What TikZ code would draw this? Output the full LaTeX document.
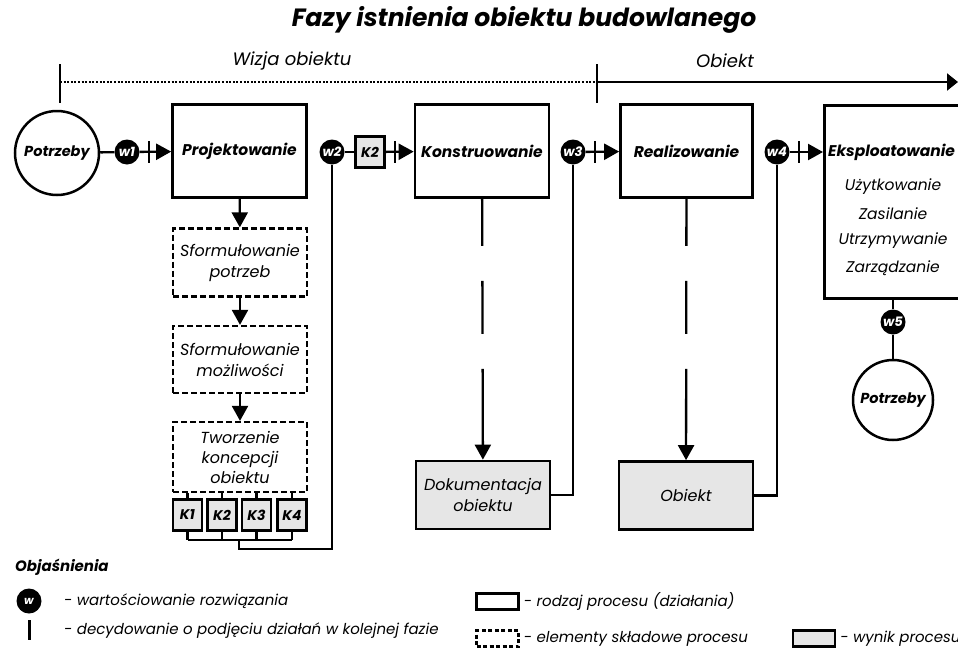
\documentclass[tikz,border=0pt]{standalone}
\usepackage{fontspec}
\setmainfont{Poppins}
\usetikzlibrary{arrows.meta,calc,positioning}
\definecolor{szary}{HTML}{E6E6E6}

\tikzset{
  conn/.style={line width=2.3pt},
  arr/.style={conn, -{Triangle[length=15pt,width=16pt]}},
  tick/.style={line width=2.3pt},
  proc/.style={draw, line width=2.7pt, minimum width=134pt, minimum height=93pt,
    align=center, font=\bfseries\itshape\fontsize{15.5}{18}\selectfont},
  elem/.style={draw, line width=2.3pt, dash pattern=on 6pt off 3pt,
    minimum width=134pt, minimum height=68pt, align=center,
    font=\itshape\fontsize{16}{21}\selectfont},
  wynik/.style={draw, fill=szary, line width=2.7pt, minimum width=134pt,
    minimum height=68pt, align=center, font=\itshape\fontsize{16}{21}\selectfont},
  kbox/.style={draw, fill=szary, line width=2.5pt, minimum width=29pt,
    minimum height=31pt, inner sep=0pt, font=\bfseries\itshape\fontsize{14}{16}\selectfont},
  ocena/.style={circle, fill=black, minimum size=25pt, inner sep=0pt,
    text=white, font=\bfseries\itshape\fontsize{13}{15}\selectfont},
  potrz/.style={circle, draw, line width=2.5pt, minimum size=84pt, inner sep=0pt,
    font=\bfseries\itshape\fontsize{14.5}{17}\selectfont},
  lista/.style={font=\itshape\fontsize{15.5}{18}\selectfont},
  opis/.style={font=\itshape\fontsize{15}{18}\selectfont, anchor=west, inner sep=0pt},
}

\begin{document}
\begin{tikzpicture}[x=1pt, y=-1pt]
  \useasboundingbox (0,0) rectangle (958,648);

  % tytul i os czasu
  \node[font=\bfseries\itshape\fontsize{25}{30}\selectfont] (tytul) at (524,20) {Fazy istnienia obiektu budowlanego};
  \node[font=\itshape\fontsize{18}{21}\selectfont] (wizja) at (292,61) {Wizja obiektu};
  \node[font=\itshape\fontsize{18}{21}\selectfont] (obiektos) at (725,61) {Obiekt};
  \coordinate (os0) at (60,82);
  \coordinate (os1) at (597,82);
  \coordinate (os2) at (958,82);
  \draw[line width=2.2pt, dash pattern=on 2pt off 1.6pt] (os0) -- (os1);
  \draw[conn, -{Triangle[length=11pt,width=17pt]}] (os1) -- (os2);
  \draw[tick, line width=1.6pt] ($(os0)+(0,-18)$) -- ($(os0)+(0,21)$);
  \draw[tick, line width=1.6pt] ($(os1)+(0,-18)$) -- ($(os1)+(0,21)$);

  % glowny ciag faz
  \node[potrz] (potrzA) at (57,153) {Potrzeby};
  \node[ocena] (w1) at (127,152) {w1};
  \node[proc] (proj) at (239.5,151) {Projektowanie};
  \node[ocena] (w2) at (332,152) {w2};
  \node[kbox] (k2g) at (370,152) {K2};
  \node[proc] (konst) at (482,151) {Konstruowanie};
  \node[ocena] (w3) at (573,152) {w3};
  \node[proc, minimum width=132pt] (real) at (686.5,151) {Realizowanie};
  \node[ocena] (w4) at (777,152) {w4};
  \node[draw, line width=2.7pt, minimum width=150pt, minimum height=193pt, anchor=north west] (eksp) at (823,104) {};

  \draw[conn] (potrzA) -- (w1);
  \draw[arr] (w1) -- (proj);
  \draw[conn] (w2) -- (k2g);
  \draw[arr] (k2g) -- (konst);
  \draw[arr] (w3) -- (real);
  \draw[arr] (w4) -- (eksp.west |- w4);
  \foreach \a/\b in {w1/proj, k2g/konst, w3/real, w4/eksp} {
    \draw[tick] ($(\a.east)+(9,-11)$) -- ($(\a.east)+(9,11)$);
  }

  % eksploatowanie
  \node[font=\bfseries\itshape\fontsize{15.5}{18}\selectfont, anchor=west, inner sep=0pt] (eksptxt) at (828,152) {Eksploatowanie};
  \node[lista] (uzyt) at (893,187) {Użytkowanie};
  \node[lista] (zasil) at (893,214) {Zasilanie};
  \node[lista] (utrzym) at (893,241) {Utrzymywanie};
  \node[lista] (zarz) at (893,268) {Zarządzanie};
  \node[ocena] (w5) at (893,322) {w5};
  \node[potrz, minimum size=80pt] (potrzB) at (893,400) {Potrzeby};
  \draw[conn] (w5 |- eksp.south) -- (w5) -- (potrzB);

  % projektowanie - elementy skladowe
  \node[elem] (sfp) at (240,262.5) {Sformułowanie\\potrzeb};
  \node[elem, minimum height=67pt] (sfm) at (240,359.5) {Sformułowanie\\możliwości};
  \node[elem, minimum height=70pt, font=\itshape\fontsize{16}{20}\selectfont] (tko) at (240,457) {Tworzenie\\koncepcji\\obiektu};
  \draw[arr] (proj) -- (sfp);
  \draw[arr] (sfp) -- (sfm);
  \draw[arr] (sfm) -- (tko);
  \foreach \i/\x in {1/187.5, 2/222, 3/256.5, 4/292} {
    \node[kbox] (k\i) at (\x,515) {K\i};
    \draw[conn] (k\i.north) -- (k\i.north |- tko.south);
    \draw[conn] (k\i.south) -- ++(0,8);
  }
  \draw[conn] ($(k1.south)+(0,8)$) -- ($(k4.south)+(0,8)$);
  \coordinate (kdol) at ($(k2.south)!0.5!(k3.south)+(0,8)$);
  \draw[conn] (kdol) -- ++(0,9) -| (w2);

  % wyniki procesow
  \node[wynik] (dok) at (483,495) {Dokumentacja\\obiektu};
  \node[wynik] (obiekt) at (686,495.5) {Obiekt};
  \draw[arr, dash pattern=on 47pt off 35pt on 53pt off 35pt on 300pt off 0pt] (konst) -- (dok);
  \draw[arr, dash pattern=on 47pt off 35pt on 53pt off 35pt on 300pt off 0pt] (real) -- (obiekt);
  \draw[conn] (dok.east) -| (w3);
  \draw[conn] (obiekt.east) -| (w4);

  % objasnienia
  \node[font=\bfseries\itshape\fontsize{15}{18}\selectfont, anchor=west, inner sep=0pt] (objasn) at (15,567) {Objaśnienia};
  \node[ocena, minimum size=25pt, font=\bfseries\itshape\fontsize{11}{13}\selectfont] (lw) at (29,601) {w};
  \node[opis] (lwtxt) at (64,601) {- wartościowanie rozwiązania};
  \coordinate (lbar) at (29,630);
  \draw[line width=3pt] ($(lbar)+(0,-10)$) -- ($(lbar)+(0,10)$);
  \node[opis] (lbartxt) at (64,631) {- decydowanie o podjęciu działań w kolejnej fazie};
  \node[draw, line width=2.4pt, minimum width=42pt, minimum height=16pt, inner sep=0pt] (lproc) at (497.5,601.5) {};
  \node[opis, right=4pt of lproc] (lproctxt) {- rodzaj procesu (działania)};
  \node[draw, line width=2.2pt, dash pattern=on 4pt off 2.5pt, minimum width=42pt, minimum height=16pt, inner sep=0pt] (lelem) at (497.5,638.5) {};
  \node[opis, right=4pt of lelem] (lelemtxt) {- elementy składowe procesu};
  \node[draw, fill=szary, line width=2.4pt, minimum width=42pt, minimum height=16pt, inner sep=0pt] (lwyn) at (814,638.5) {};
  \node[opis, right=4pt of lwyn] (lwyntxt) {- wynik procesu};
\end{tikzpicture}
\end{document}
